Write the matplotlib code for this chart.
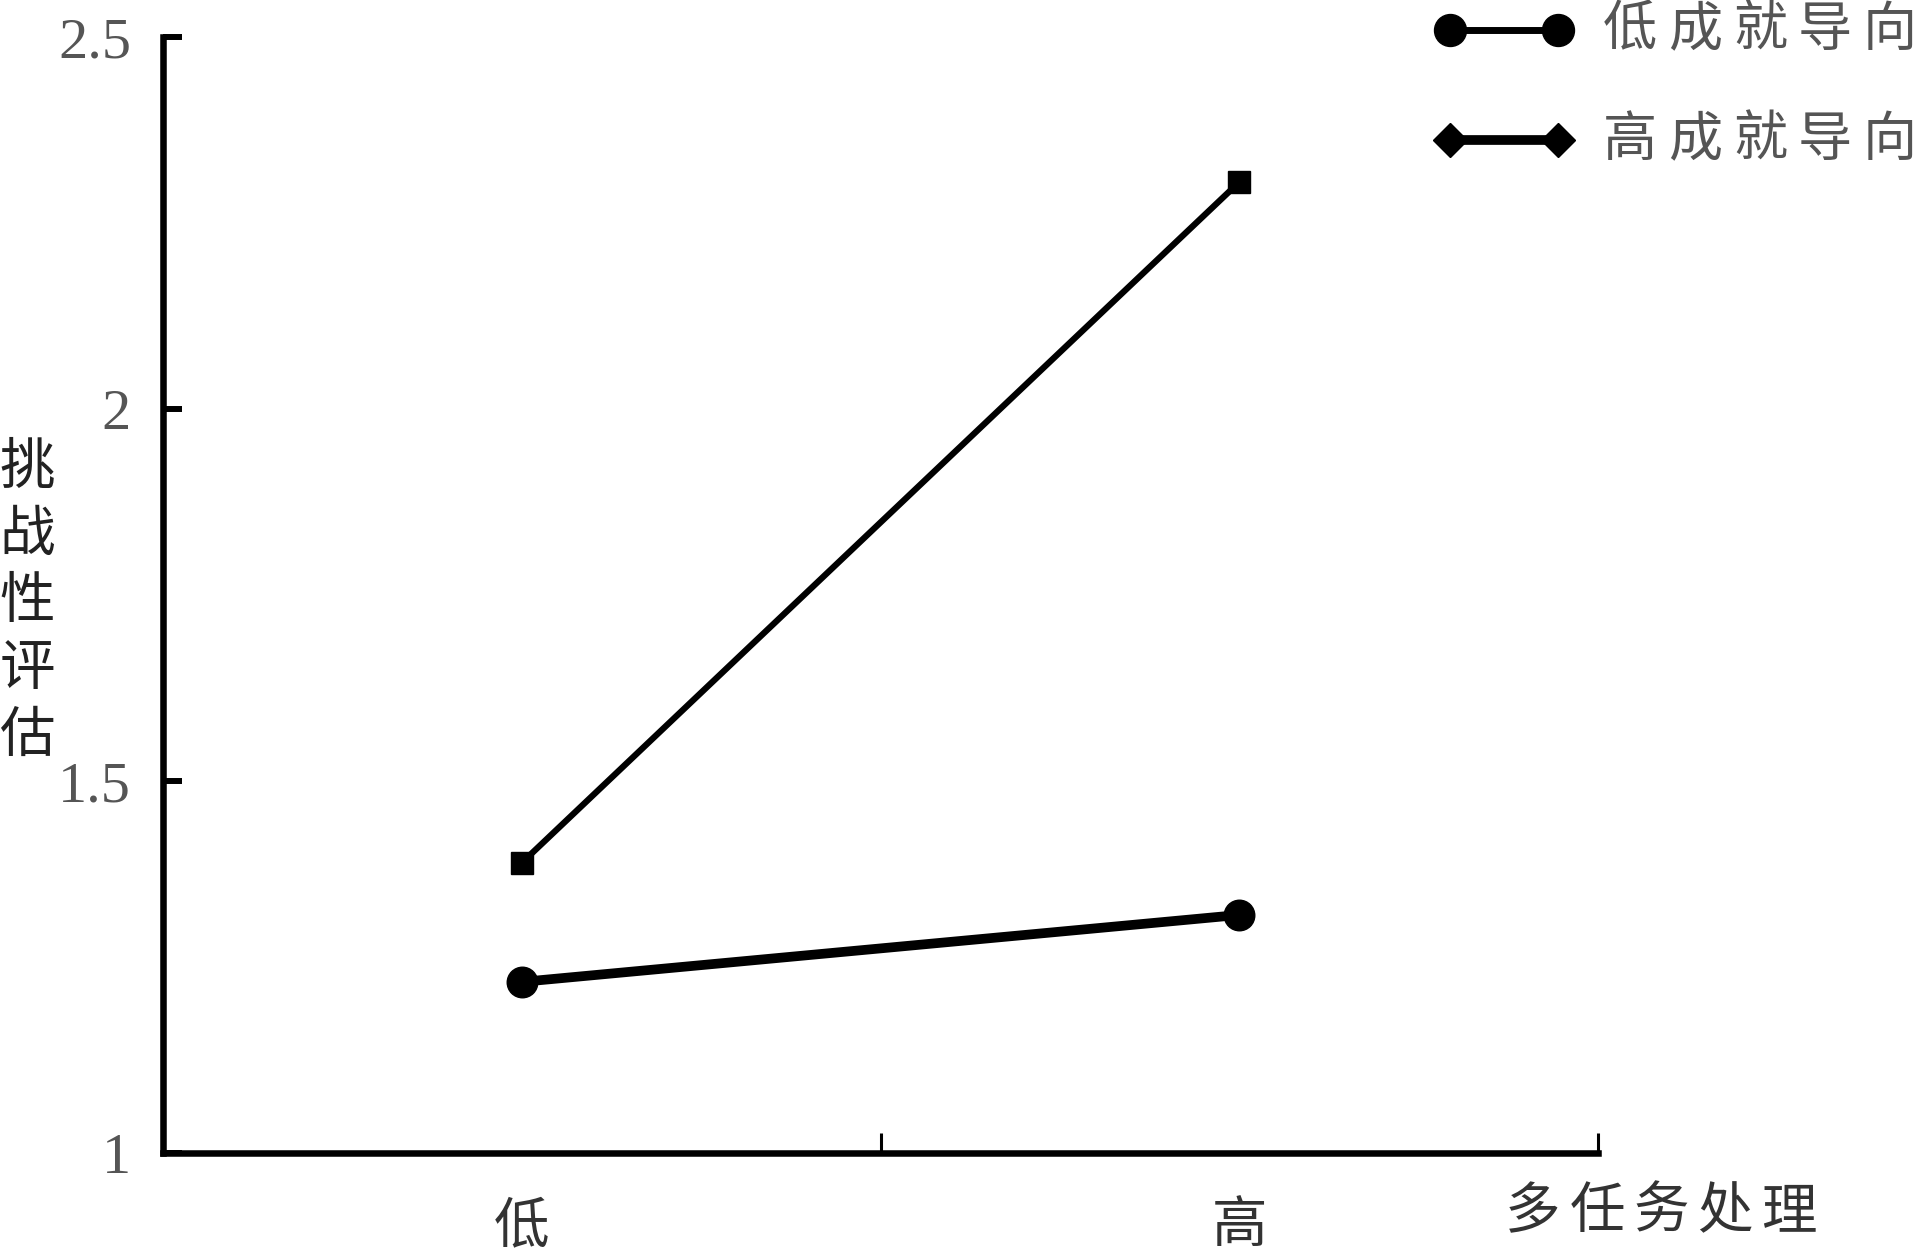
import numpy as np
import matplotlib
matplotlib.use("Agg")
import matplotlib.pyplot as plt
from matplotlib.lines import Line2D

# data
conditions = ["低", "高"]
x_pos = [0.5, 1.5]
low_achieve = [1.23, 1.32]     # 低成就导向
high_achieve = [1.39, 2.305]   # 高成就导向
yticks = [1, 1.5, 2, 2.5]
ytick_labels = ["1", "1.5", "2", "2.5"]
legend_labels = ["低成就导向", "高成就导向"]
ylabel = "挑战性评估"
xlabel = "多任务处理"

W, H = 1918, 1252
cjk = ["Noto Sans CJK SC", "DejaVu Sans"]

fig = plt.figure(figsize=(W / 100, H / 100), dpi=100)
ax = fig.add_axes([163 / W, 1 - 1153 / H, (1598 - 163) / W, (1153 - 37) / H])

ax.plot(x_pos, low_achieve, color="black", lw=7, marker="o", ms=22)
ax.plot(x_pos, high_achieve, color="black", lw=4.5, marker="s", ms=16)

ax.set_xlim(0, 2)
ax.set_ylim(1, 2.5)
for s in ["top", "right"]:
    ax.spines[s].set_visible(False)
for s in ["left", "bottom"]:
    ax.spines[s].set_linewidth(4.7)

ax.set_yticks(yticks)
ax.set_yticklabels(ytick_labels, family="Liberation Serif", fontsize=42, color="#555555")
ax.tick_params(axis="y", direction="in", length=14, width=4.3, pad=23)
for t in ax.get_yticklabels():
    t.set_verticalalignment("center_baseline")

ax.set_xticks([0, 1, 2])
ax.set_xticklabels([])
ax.tick_params(axis="x", which="major", direction="in", length=14.5, width=2.2)
ax.set_xticks(x_pos, minor=True)
ax.set_xticklabels(conditions, minor=True, family=cjk, fontsize=40, color="#333333")
ax.tick_params(axis="x", which="minor", length=0, pad=32)


def spaced_text(chars, x0, y, pitch, size, color):
    for i, ch in enumerate(chars):
        fig.text((x0 + i * pitch) / W, 1 - y / H, ch, family=cjk, fontsize=size,
                 color=color, ha="center", va="center")


# y label stacked vertically
for i, ch in enumerate(ylabel):
    fig.text(27 / W, 1 - (468 + i * 67) / H, ch, family=cjk, fontsize=40,
             color="#222222", ha="center", va="center")

spaced_text(xlabel, 1533, 1212, 64, 40, "#333333")

# legend
handles = [("o", 23, 5, 30), ("D", 17, 7, 140)]
for (mk, ms, lw, y), lab in zip(handles, legend_labels):
    fig.add_artist(Line2D([1450 / W, 1558 / W], [1 - y / H, 1 - y / H], color="black",
                          lw=lw, marker=mk, ms=ms, transform=fig.transFigure))
    spaced_text(lab, 1630, y, 65, 39, "#555555")

fig.savefig("out.png", dpi=100)
